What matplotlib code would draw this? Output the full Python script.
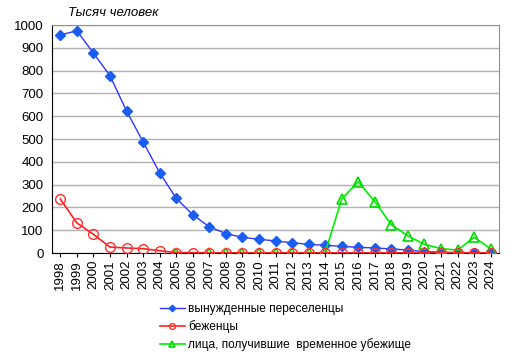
import matplotlib
matplotlib.use("Agg")
import matplotlib.pyplot as plt
import numpy as np

years = [str(y) for y in range(1998, 2025)]
displaced = [956, 975, 877, 778, 623, 488, 352, 240, 168, 115, 85, 69, 60, 53, 45, 38, 34,
             29, 25, 22, 18, 13, 6, 4, 2, 1, 1]
refugees = [237, 132, 82, 26, 22, 19, 10, 2, 1, 0.5, 0.5, 0.5, 0.5, 0.5, 0.5, 0.5, 0.5,
            0.5, 0.5, 0.5, 0.5, 0.5, 0.5, 0.5, 0.5, 0.5, 0.5]
temp_asylum = [np.nan, np.nan, np.nan, np.nan, np.nan, np.nan, np.nan, 1, np.nan, 1, 1, 1, 1, 1, 1, 1, 1,
               237, 313, 225, 124, 75, 38, 19, 13, 69, 18]
labels = ["вынужденные переселенцы", "беженцы", "лица, получившие  временное убежище"]

plt.rcParams['font.family'] = ['Liberation Sans', 'DejaVu Sans']

fig = plt.figure(figsize=(5.14, 3.59), dpi=100)
ax = fig.add_axes([52/514, 1 - 253/359, 447/514, 228/359])

x = np.arange(len(years))
ta = np.array(temp_asylum, dtype=float)
valid = ~np.isnan(ta)

l1, = ax.plot(x, displaced, color='#3333ff', lw=1, marker='D', ms=5.5,
              mfc='#1a5ef0', mec='#1a5ef0', zorder=3)
l3, = ax.plot(x[valid], ta[valid], color='#00ee00', lw=1.2, marker='^', ms=7,
              mfc='none', mec='#00dd00', mew=1.2, zorder=4)
l2, = ax.plot(x, refugees, color='#ff2020', lw=1.2, marker='o', ms=7,
              mfc='none', mec='#ff3030', mew=1.0, zorder=5)

ax.set_xlim(-0.5, len(years) - 0.5)
ax.set_ylim(0, 1000)
ax.set_yticks(range(0, 1001, 100))
ax.set_xticks(x)
ax.set_xticklabels(years, rotation=90, fontsize=9.5)
ax.tick_params(axis='y', labelsize=9.5, length=0, pad=6)
ax.tick_params(axis='x', length=3, pad=2)
ax.yaxis.grid(True, color='#b0b0b0', lw=1)
ax.set_axisbelow(True)
for s in ['top', 'right']:
    ax.spines[s].set_color('#909090')
for s in ['left', 'bottom']:
    ax.spines[s].set_color('black')

fig.text(68/514, 1 - 13/359, "Тысяч человек", fontsize=9.5, style='italic', va='center')

fig.legend([l1, l2, l3], labels, loc='upper left', bbox_to_anchor=(155/514, 1 - 298/359),
           frameon=False, fontsize=8.6, handlelength=2.1, markerscale=0.6,
           labelspacing=0.45, handletextpad=0.25, borderaxespad=0)

fig.savefig("out.png", dpi=100)
